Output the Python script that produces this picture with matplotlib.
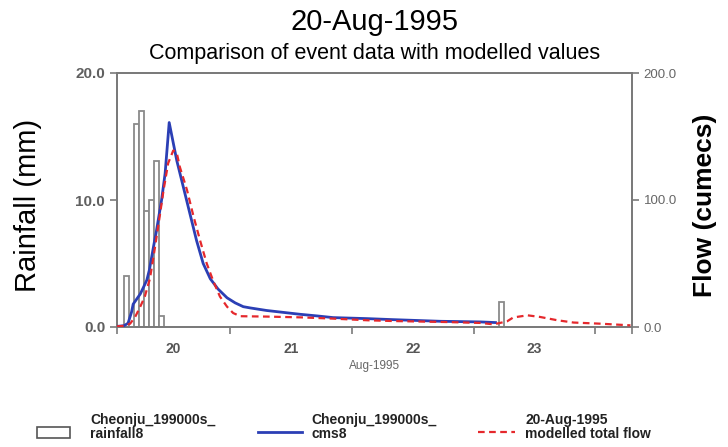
import matplotlib
matplotlib.use("Agg")
import matplotlib.pyplot as plt
from matplotlib.patches import Rectangle
from matplotlib.lines import Line2D
import numpy as np

plt.rcParams['font.family'] = ['Liberation Sans', 'DejaVu Sans']

# ---- data (hours since 20-Aug-1995 00:00) ----
rain_hours = [3, 5, 6, 7, 8, 9, 10, 77]
rain_mm = [4.0, 16.0, 17.0, 9.1, 10.0, 13.1, 0.9, 2.0]

obs_hours = [1.7, 3.1, 3.9, 4.6, 4.9, 5.6, 6.3, 6.9, 7.6, 8.1, 8.9, 9.5, 10.5, 11.2,
             12.0, 13.5, 14.8, 16.1, 17.4, 18.7, 20.1, 21.6, 23.4, 25.0, 26.6, 28.0,
             31.2, 34.5, 37.8, 41.2, 44.3, 51.0, 56.1, 65.4, 73.3, 76.3]
obs_flow = [0.5, 1, 3, 12, 18, 22, 26, 31, 37, 45, 63, 76, 100, 121,
            161, 131, 110, 89, 68, 50, 38, 30, 23, 19, 16, 15,
            13, 11.5, 10, 8.7, 7.4, 6.6, 5.8, 4.5, 4.0, 3.5]

mod_hours = [1.7, 3.3, 4.3, 5.3, 6.3, 7.2, 8.2, 8.9, 9.9, 10.9, 11.8, 12.8, 13.5,
             14.1, 15.5, 16.8, 18.1, 19.4, 20.7, 22.0, 23.4, 24.6, 26.0, 31.2, 37.8,
             44.3, 51.0, 56.1, 66.8, 73.3, 75.9, 77.2, 78.6, 79.8, 82.6, 85.1, 88.5,
             91.7, 97.0, 102.9]
mod_flow = [0.5, 1, 2.6, 8, 16, 24, 38, 55, 81, 108, 129, 139, 137,
            126, 108, 87, 68, 50, 36, 24, 16, 11, 8.5, 8.2, 7.6,
            6.6, 5.3, 4.7, 3.9, 3.2, 2.1, 3.2, 4.5, 7.5, 9.2, 7.9, 5.3,
            3.5, 2.6, 1.3]

day_labels = ["20", "21", "22", "23"]
legend_labels = ["Cheonju_199000s_\nrainfall8", "Cheonju_199000s_\ncms8",
                 "20-Aug-1995\nmodelled total flow"]

# ---- figure ----
W, H = 728, 447
fig = plt.figure(figsize=(W / 100, H / 100), dpi=100)
ax = fig.add_axes([117 / W, 1 - 327 / H, (632 - 117) / W, (327 - 73) / H])
ax2 = ax.twinx()

def to_day(h):
    return 20 + np.asarray(h, dtype=float) / 24.0

x0, x1 = 20.0715, 24.30
spine_col = '#7a7a7a'
tick_col = '#555555'

ax.bar(to_day(rain_hours), rain_mm, width=1 / 24, align='edge',
       facecolor='white', edgecolor='#8a8a8a', linewidth=1.3, zorder=2)
ax2.plot(to_day(obs_hours), obs_flow, color='#2b3fb5', lw=2.0, zorder=3)
ax2.plot(to_day(mod_hours), mod_flow, color='#e5282c', lw=1.6,
         linestyle=(0, (3, 2)), zorder=4)

ax.set_xlim(x0, x1)
ax.set_ylim(0, 20)
ax2.set_ylim(0, 200)

ax.set_yticks([0, 10, 20])
ax.set_yticklabels(["0.0", "10.0", "20.0"])
ax2.set_yticks([0, 100, 200])
ax2.set_yticklabels(["0.0", "100.0", "200.0"])

ax.set_xticks([x0, 21, 22, 23, 24, x1])
ax.set_xticklabels([])
ax.set_xticks([(x0 + 21) / 2, 21.5, 22.5, 23.5], minor=True)
ax.set_xticklabels(day_labels, minor=True)
ax.tick_params(axis='x', which='major', direction='out', length=5,
               color=spine_col, width=1.2)
ax.tick_params(axis='x', which='minor', length=0, pad=11, labelsize=10,
               labelcolor=tick_col)
for t in ax.get_xticklabels(minor=True):
    t.set_fontweight('bold')

ax.tick_params(axis='y', direction='out', length=5, color=spine_col,
               labelsize=11, labelcolor='#606060', width=1.2)
ax2.tick_params(axis='y', direction='out', length=5, color=spine_col,
                labelsize=9.5, labelcolor='#666666', width=1.2)
for t in ax.get_yticklabels():
    t.set_fontweight('bold')

for a in (ax, ax2):
    for s in a.spines.values():
        s.set_color(spine_col)
        s.set_linewidth(1.3)

ax.set_ylabel("Rainfall (mm)", fontsize=21, labelpad=10)
ax2.set_ylabel("Flow (cumecs)", fontsize=19, fontweight='bold', labelpad=14)
ax.yaxis.set_label_coords(-0.145, 0.48)
ax2.yaxis.set_label_coords(1.118, 0.48)

fig.text(374.5 / W, 1 - 366 / H, "Aug-1995", ha='center', va='center',
         fontsize=8.5, color='#666666')

fig.text(374.5 / W, 1 - 22 / H, "20-Aug-1995", ha='center', va='center',
         fontsize=21)
fig.text(374.5 / W, 1 - 53 / H, "Comparison of event data with modelled values",
         ha='center', va='center', fontsize=15.5)

# ---- legend ----
yl = 1 - 432 / H
fig.patches.append(Rectangle((37 / W, 1 - 438 / H), 33 / W, 11 / H,
                             transform=fig.transFigure, facecolor='white',
                             edgecolor='#555555', lw=1.2))
fig.lines.append(Line2D([258 / W, 302 / W], [yl, yl], transform=fig.transFigure,
                        color='#2b3fb5', lw=2))
fig.lines.append(Line2D([478 / W, 515 / W], [yl, yl], transform=fig.transFigure,
                        color='#e5282c', lw=1.6, linestyle=(0, (3, 2))))
for xt, lab in zip([90, 311, 525], legend_labels):
    fig.text(xt / W, 1 - 427 / H, lab, ha='left', va='center', fontsize=10,
             fontweight='bold', color='#222222', linespacing=1.05)

fig.savefig("out.png", dpi=100)
